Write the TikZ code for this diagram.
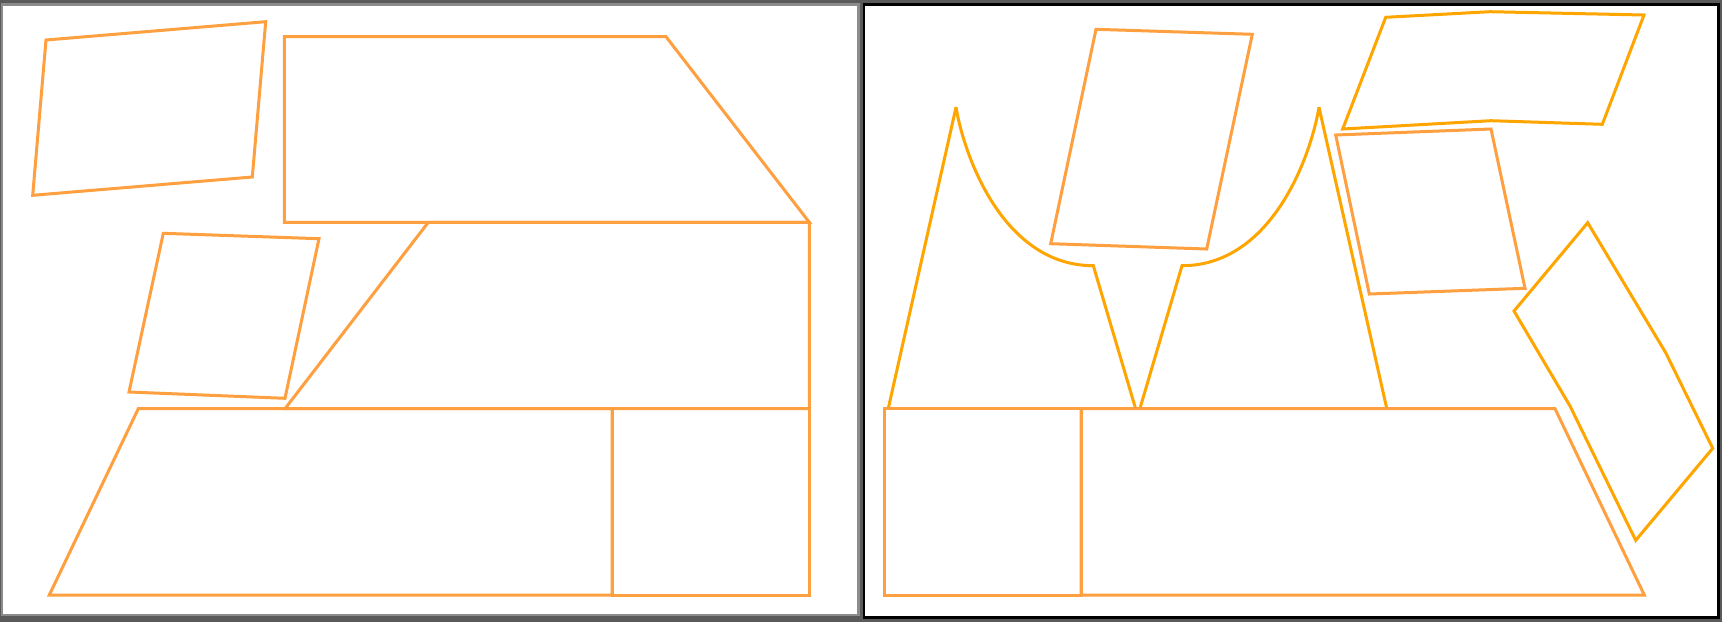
\documentclass[tikz,border=0pt]{standalone}
\definecolor{bgdark}{RGB}{90,90,90}
\definecolor{panelgray}{RGB}{140,140,140}
\definecolor{pieceA}{RGB}{255,160,64}
\definecolor{pieceB}{RGB}{255,165,0}
\begin{document}
\begin{tikzpicture}[x=1pt,y=-1pt,
  pa/.style={draw=pieceA,line width=3pt,line join=miter},
  pb/.style={draw=pieceB,line width=3pt,line join=miter,miter limit=4}]
\useasboundingbox (0,0) rectangle (1722,622);
\fill[bgdark] (0,0) rectangle (1722,622);
\draw[panelgray,fill=white,line width=2.5pt] (2.2,4.3) rectangle (858.7,615);
\draw[black,fill=white,line width=2.5pt] (864,4.3) rectangle (1718.7,617.3);
% left panel
\draw[pa] (46,40) -- (265.7,21.7) -- (252.3,177) -- (32.7,195.3) -- cycle;
\draw[pa] (284.3,36.7) -- (666,36.7) -- (809.3,222.3) -- (284.3,222.3) -- cycle;
\draw[pa] (428.3,222.3) -- (809.3,222.3) -- (809.3,408.7) -- (285,408.7) -- cycle;
\draw[pa] (138.3,408.7) -- (612,408.7) -- (612,595) -- (49.3,595) -- cycle;
\draw[pa] (612,408.7) rectangle (809.3,595);
\draw[pa] (163.3,233.3) -- (319,238.7) -- (285,398.3) -- (129,392) -- cycle;
% right panel
\draw[pa] (1096,29.3) -- (1252.3,34.3) -- (1206.7,249) -- (1050.7,243.7) -- cycle;
\draw[pb] (888.3,408.3) -- (956,107.3) .. controls (965,160) and (1005,265.7) .. (1093.3,265.7) -- (1135.5,408.3);
\draw[pb] (1140,408.3) -- (1182,265.7) .. controls (1270,265.7) and (1310,160) .. (1319,107.3) -- (1386.7,408.3);
\draw[pa] (884,408.7) rectangle (1081,595);
\draw[pa] (1081,408.7) -- (1555,408.7) -- (1644.3,595) -- (1081,595) -- cycle;
\draw[pb] (1385.7,17.3) -- (1490,11.7) -- (1644,15) -- (1602.3,124.3) -- (1491,120.7) -- (1342.7,129) -- cycle;
\draw[pa] (1335.7,135) -- (1491,129) -- (1525,288.3) -- (1369.3,294) -- cycle;
\draw[pb] (1587.7,222.7) -- (1665.7,352.7) -- (1712.7,448.3) -- (1635.7,540.3) -- (1570,406) -- (1514,311) -- cycle;
\end{tikzpicture}
\end{document}
